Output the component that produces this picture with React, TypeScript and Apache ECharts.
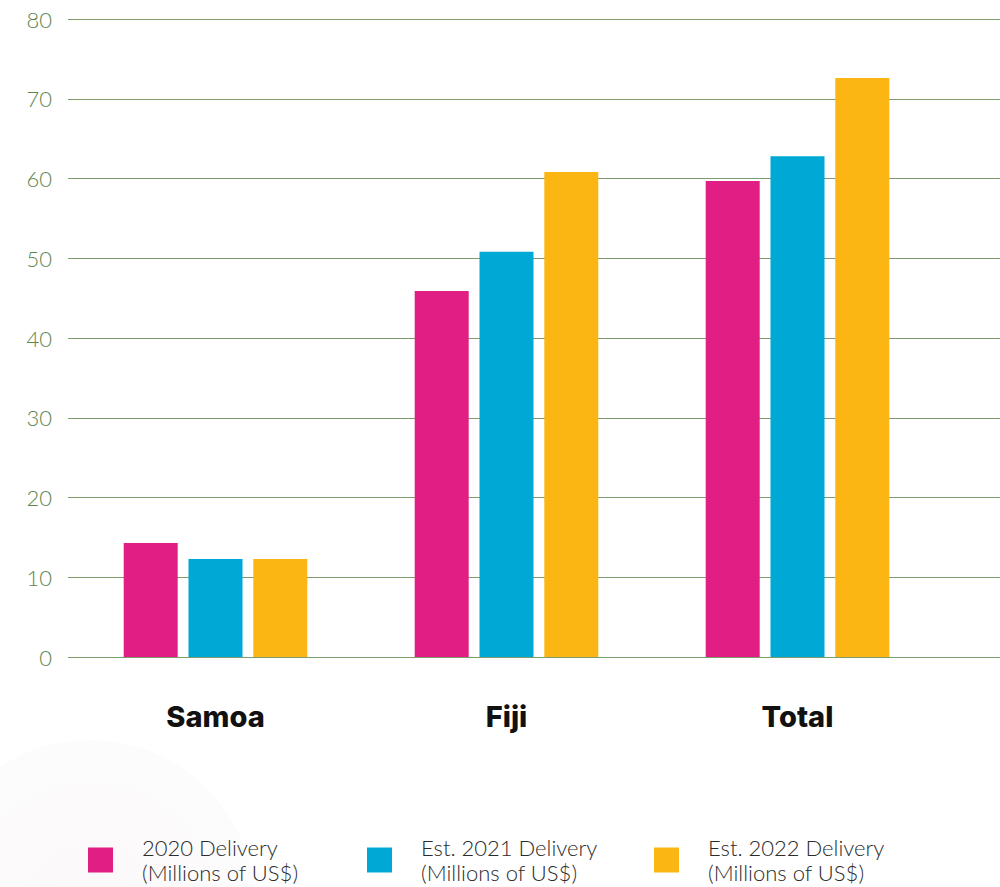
import React, { useEffect, useRef } from "react";
import * as echarts from "echarts";

const categories = ["Samoa", "Fiji", "Total"];
const seriesNames = ["2020 Delivery", "Est. 2021 Delivery", "Est. 2022 Delivery"];
const delivery2020 = [14.3, 45.9, 59.7];
const delivery2021 = [12.3, 50.8, 62.8];
const delivery2022 = [12.3, 60.8, 72.6];
const colors = ["#e01e84", "#00a8d6", "#fbb614"];
const yTicks = [0, 10, 20, 30, 40, 50, 60, 70, 80];

export default function App() {
  const ref = useRef<HTMLDivElement>(null);
  useEffect(() => {
    document.body.style.margin = "0";
    const chart = echarts.init(ref.current!, undefined, { renderer: "svg" });
    const values = [delivery2020, delivery2021, delivery2022];
    const legendLefts = [88, 367, 654];
    chart.setOption({
      animation: false,
      backgroundColor: "#ffffff",
      graphic: [
        {
          type: "circle",
          z: -10,
          silent: true,
          shape: { cx: 90, cy: 905, r: 165 },
          style: {
            fill: new echarts.graphic.RadialGradient(0.5, 0.5, 0.5, [
              { offset: 0, color: "#fbf8f9" },
              { offset: 1, color: "#fdfcfc" },
            ]),
          },
        },
      ],
      grid: [
        { left: 68, right: 0, top: 19, bottom: 230 },
        { left: 70, width: 873, top: 19, bottom: 230 },
      ],
      xAxis: [
        { type: "value", gridIndex: 0, show: false, min: 0, max: 1 },
        {
          type: "category",
          gridIndex: 1,
          data: categories,
          axisLine: { show: false },
          axisTick: { show: false },
          axisLabel: {
            margin: 45,
            fontSize: 29,
            fontWeight: 800,
            fontFamily: "Inter, Lato, sans-serif",
            color: "#111111",
          },
        },
      ],
      yAxis: [
        {
          type: "value",
          gridIndex: 0,
          min: 0,
          max: 80,
          interval: 10,
          axisLine: { show: false },
          axisTick: { show: false },
          splitLine: { lineStyle: { color: "#7c9c6c", width: 1.2 } },
          axisLabel: {
            margin: 16,
            fontSize: 22,
            fontWeight: 300,
            color: "#5c874f",
            fontFamily: "Lato, 'Open Sans', sans-serif",
            formatter: (v: number) => (yTicks.includes(v) ? String(v) : ""),
          },
        },
        {
          type: "value",
          gridIndex: 1,
          min: 0,
          max: 80,
          interval: 10,
          show: false,
          splitLine: { show: false },
        },
      ],
      legend: seriesNames.map((name, i) => ({
        data: [name],
        left: legendLefts[i],
        top: 835,
        padding: 0,
        itemWidth: 25,
        itemHeight: 25,
        icon: "rect",
        selectedMode: false,
        formatter: (n: string) => n + "\n(Millions of US$)",
        textStyle: {
          fontSize: 22,
          lineHeight: 25,
          color: "#2b2b2b",
          fontWeight: 300,
          fontFamily: "Lato, 'Open Sans', sans-serif",
          padding: [0, 0, 0, 24],
        },
      })),
      series: seriesNames.map((name, i) => ({
        name,
        type: "bar",
        xAxisIndex: 1,
        yAxisIndex: 1,
        data: values[i],
        barWidth: 54,
        barGap: "20%",
        itemStyle: { color: colors[i] },
      })),
    });
    return () => chart.dispose();
  }, []);
  return <div ref={ref} style={{ width: 1000, height: 887 }} />;
}
